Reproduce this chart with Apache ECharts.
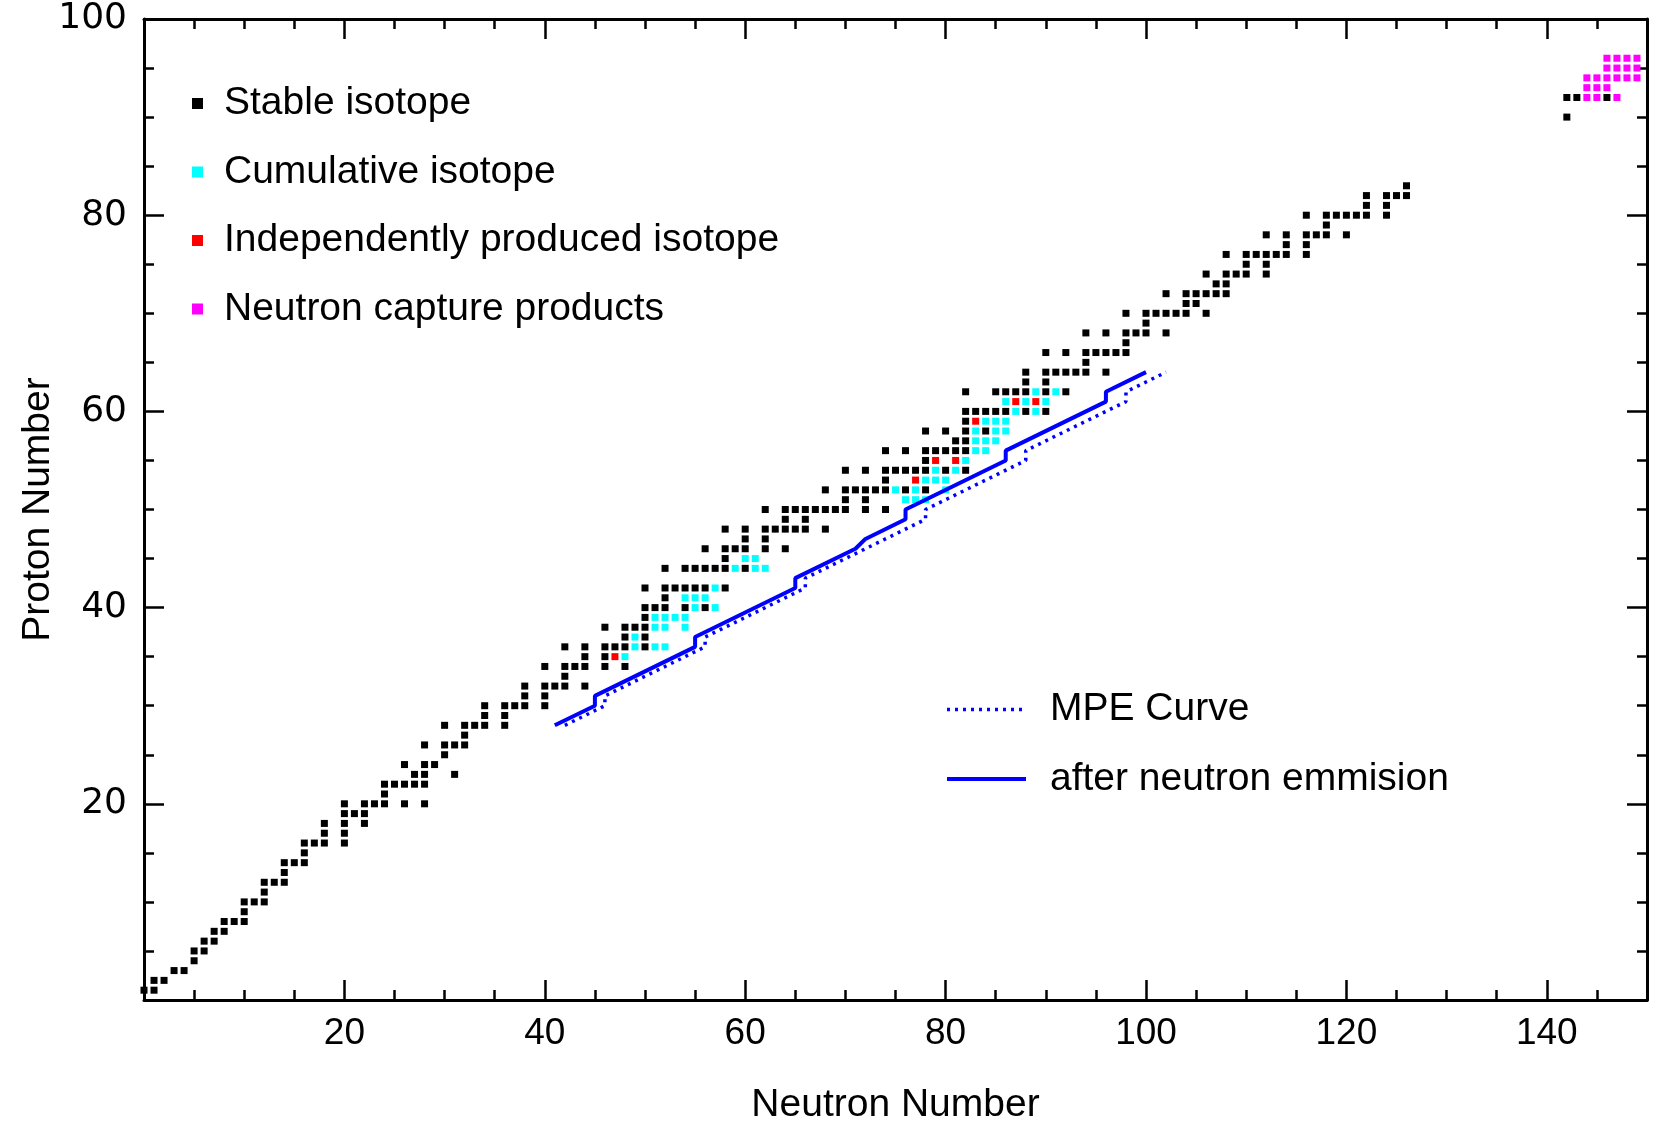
<!DOCTYPE html>
<html><head><meta charset="utf-8">
<script src="https://cdn.jsdelivr.net/npm/echarts@6/dist/echarts.min.js"></script>
<style>html,body{margin:0;padding:0;background:#fff}#c{width:1656px;height:1126px}</style>
</head><body><div id="c"></div>
<script>
// [neutron number, proton number]
const stableIsotopes = [
[0,1],[1,1],
[1,2],[2,2],
[3,3],[4,3],
[5,4],
[5,5],[6,5],
[6,6],[7,6],
[7,7],[8,7],
[8,8],[9,8],[10,8],
[10,9],
[10,10],[11,10],[12,10],
[12,11],
[12,12],[13,12],[14,12],
[14,13],
[14,14],[15,14],[16,14],
[16,15],
[16,16],[17,16],[18,16],[20,16],
[18,17],[20,17],
[18,18],[20,18],[22,18],
[20,19],[21,19],[22,19],
[20,20],[22,20],[23,20],[24,20],[26,20],[28,20],
[24,21],
[24,22],[25,22],[26,22],[27,22],[28,22],
[27,23],[28,23],[31,23],
[26,24],[28,24],[29,24],
[30,25],
[28,26],[30,26],[31,26],[32,26],
[32,27],
[30,28],[32,28],[33,28],[34,28],[36,28],
[34,29],[36,29],
[34,30],[36,30],[37,30],[38,30],[40,30],
[38,31],[40,31],
[38,32],[40,32],[41,32],[42,32],[44,32],
[42,33],
[40,34],[42,34],[43,34],[44,34],[46,34],[48,34],
[44,35],[46,35],
[42,36],[44,36],[46,36],[47,36],[48,36],[50,36],
[48,37],[50,37],
[46,38],[48,38],[49,38],[50,38],
[50,39],
[50,40],[51,40],[52,40],[54,40],[56,40],
[52,41],
[50,42],[52,42],[53,42],[54,42],[55,42],[56,42],[58,42],
[52,44],[54,44],[55,44],[56,44],[57,44],[58,44],[60,44],
[58,45],
[56,46],[58,46],[59,46],[60,46],[62,46],[64,46],
[60,47],[62,47],
[58,48],[60,48],[62,48],[63,48],[64,48],[65,48],[66,48],[68,48],
[64,49],[66,49],
[62,50],[64,50],[65,50],[66,50],[67,50],[68,50],[69,50],[70,50],[72,50],[74,50],
[70,51],[72,51],
[68,52],[70,52],[71,52],[72,52],[73,52],[74,52],[76,52],[78,52],
[74,53],
[70,54],[72,54],[74,54],[75,54],[76,54],[77,54],[78,54],[80,54],[82,54],
[78,55],
[74,56],[76,56],[78,56],[79,56],[80,56],[81,56],[82,56],
[81,57],[82,57],
[78,58],[80,58],[82,58],[84,58],
[82,59],
[82,60],[83,60],[84,60],[85,60],[86,60],[88,60],[90,60],
[82,62],[85,62],[86,62],[87,62],[88,62],[90,62],[92,62],
[88,63],[90,63],
[88,64],[90,64],[91,64],[92,64],[93,64],[94,64],[96,64],
[94,65],
[90,66],[92,66],[94,66],[95,66],[96,66],[97,66],[98,66],
[98,67],
[94,68],[96,68],[98,68],[99,68],[100,68],[102,68],
[100,69],
[98,70],[100,70],[101,70],[102,70],[103,70],[104,70],[106,70],
[104,71],[105,71],
[102,72],[104,72],[105,72],[106,72],[107,72],[108,72],
[107,73],[108,73],
[106,74],[108,74],[109,74],[110,74],[112,74],
[110,75],[112,75],
[108,76],[110,76],[111,76],[112,76],[113,76],[114,76],[116,76],
[114,77],[116,77],
[112,78],[114,78],[116,78],[117,78],[118,78],[120,78],
[118,79],
[116,80],[118,80],[119,80],[120,80],[121,80],[122,80],[124,80],
[122,81],[124,81],
[122,82],[124,82],[125,82],[126,82],
[126,83],
[142,90],
[142,92],[143,92],[146,92]
];
const cumulativeIsotopes = [
[48,35],
[49,36],[51,36],[52,36],
[49,37],
[51,38],[52,38],[54,38],
[51,39],[52,39],[53,39],[54,39],
[55,40],[57,40],
[54,41],[55,41],[56,41],
[57,42],
[59,44],[61,44],[62,44],
[60,45],[61,45],
[76,51],[77,51],[78,51],
[75,52],[77,52],[80,52],
[78,53],[79,53],[80,53],
[79,54],[81,54],
[82,55],
[83,56],[84,56],
[83,57],[84,57],[85,57],
[83,58],[85,58],[86,58],
[84,59],[85,59],[86,59],
[87,60],[89,60],
[86,61],[88,61],[90,61],
[89,62],[91,62]
];
const independentIsotopes = [
[47,35],[77,53],[79,55],[81,55],[83,59],[87,61],[89,61]
];
const neutronCaptureProducts = [
[144,92],[145,92],[147,92],
[144,93],[145,93],[146,93],
[144,94],[145,94],[146,94],[147,94],[148,94],[149,94],
[146,95],[147,95],[148,95],[149,95],
[146,96],[147,96],[148,96],[149,96]
];
const mpeCurve = [
[42,28],[46,30],[46,31],[56,36],[56,37],[66,42],[66,43],[78,49],[78,50],[88,55],[88,56],[98,61],[98,62],[102,64]
];
const afterNeutronEmission = [
[41,28],[45,30],[45,31],[55,36],[55,37],[65,42],[65,43],[71,46],[72,47],[76,49],[76,50],[86,55],[86,56],[96,61],[96,62],[100,64]
];
const xTickLabels = [20,40,60,80,100,120,140];
const yTickLabels = [20,40,60,80,100];

const FONT = 'Liberation Sans';
const chart = echarts.init(document.getElementById('c'), null, {renderer:'canvas'});

function axisBase(extra){
  return Object.assign({
    type:'value', gridIndex:0, splitLine:{show:false}, axisPointer:{show:false}
  }, extra);
}
const lineSt = {color:'#000', width:3};
const tickSt = {color:'#000', width:2.5};

const xAxes = [
  axisBase({position:'bottom', min:0, max:150, interval:5,
    axisLine:{show:true, onZero:false, lineStyle:lineSt},
    axisTick:{show:true, inside:true, length:10, lineStyle:tickSt},
    axisLabel:{show:true, margin:15, color:'#000', fontFamily:FONT, fontSize:37,
      formatter:v => xTickLabels.includes(v) ? String(v) : ''},
    name:'Neutron Number', nameLocation:'middle', nameGap:86,
    nameTextStyle:{color:'#000', fontFamily:FONT, fontSize:39}}),
  axisBase({position:'bottom', min:0, max:150, interval:20,
    axisLine:{show:false, onZero:false}, axisTick:{show:true, inside:true, length:20, lineStyle:tickSt},
    axisLabel:{show:false}}),
  axisBase({position:'top', min:0, max:150, interval:5,
    axisLine:{show:true, onZero:false, lineStyle:lineSt},
    axisTick:{show:true, inside:true, length:10, lineStyle:tickSt}, axisLabel:{show:false}}),
  axisBase({position:'top', min:0, max:150, interval:20,
    axisLine:{show:false, onZero:false}, axisTick:{show:true, inside:true, length:20, lineStyle:tickSt},
    axisLabel:{show:false}})
];
const yAxes = [
  axisBase({position:'left', min:0, max:100, interval:5,
    axisLine:{show:true, onZero:false, lineStyle:lineSt},
    axisTick:{show:true, inside:true, length:10, lineStyle:tickSt},
    axisLabel:{show:true, margin:17, color:'#000', fontFamily:'DejaVu Sans', fontSize:36,
      formatter:v => yTickLabels.includes(v) ? String(v) : ''},
    name:'Proton Number', nameLocation:'middle', nameGap:86, nameRotate:90, nameMoveOverlap:false,
    nameTextStyle:{color:'#000', fontFamily:FONT, fontSize:39}}),
  axisBase({position:'left', min:0, max:100, interval:20,
    axisLine:{show:false, onZero:false}, axisTick:{show:true, inside:true, length:20, lineStyle:tickSt},
    axisLabel:{show:false}}),
  axisBase({position:'right', min:0, max:100, interval:5,
    axisLine:{show:true, onZero:false, lineStyle:lineSt},
    axisTick:{show:true, inside:true, length:10, lineStyle:tickSt}, axisLabel:{show:false}}),
  axisBase({position:'right', min:0, max:100, interval:20,
    axisLine:{show:false, onZero:false}, axisTick:{show:true, inside:true, length:20, lineStyle:tickSt},
    axisLabel:{show:false}})
];

function sq(name, data, color, z){
  return {type:'scatter', name, data, symbol:'rect', symbolSize:7, z,
    itemStyle:{color, opacity:1}, xAxisIndex:0, yAxisIndex:0, emphasis:{disabled:true}, clip:false};
}

const option = {
  animation:false,
  backgroundColor:'#fff',
  textStyle:{fontFamily:FONT},
  grid:{left:144, right:9, top:19, bottom:126, containLabel:false, outerBoundsMode:'none'},
  xAxis:xAxes,
  yAxis:yAxes,
  legend:[
    {data:['Stable isotope','Cumulative isotope','Independently produced isotope','Neutron capture products'],
     orient:'vertical', left:187, top:79, itemWidth:11, itemHeight:11, itemGap:29.5, icon:'rect',
     selectedMode:false, itemStyle:{opacity:1},
     textStyle:{color:'#000', fontFamily:FONT, fontSize:39, padding:[0,0,0,16]}},
    {data:[{name:'MPE Curve', lineStyle:{width:3.5}}, {name:'after neutron emmision', lineStyle:{width:4}}],
     orient:'vertical', left:940, top:685, itemWidth:79, itemHeight:14, itemGap:30.5,
     selectedMode:false, itemStyle:{opacity:0},
     textStyle:{color:'#000', fontFamily:FONT, fontSize:39, padding:[0,0,0,19]}}
  ],
  series:[
    sq('Stable isotope', stableIsotopes, '#000000', 2),
    sq('Cumulative isotope', cumulativeIsotopes, '#00ffff', 2),
    sq('Independently produced isotope', independentIsotopes, '#ff0000', 2),
    sq('Neutron capture products', neutronCaptureProducts, '#ff00ff', 2),
    {type:'line', name:'MPE Curve', data:mpeCurve, symbol:'none', z:4,
     lineStyle:{color:'#0000ff', width:3.5, type:[3,5], cap:'butt'}, itemStyle:{color:'#0000ff', opacity:0},
     xAxisIndex:0, yAxisIndex:0},
    {type:'line', name:'after neutron emmision', data:afterNeutronEmission, symbol:'none', z:4,
     lineStyle:{color:'#0000ff', width:4, type:'solid'}, itemStyle:{color:'#0000ff', opacity:0},
     xAxisIndex:0, yAxisIndex:0}
  ]
};
chart.setOption(option);
</script>
</body></html>
